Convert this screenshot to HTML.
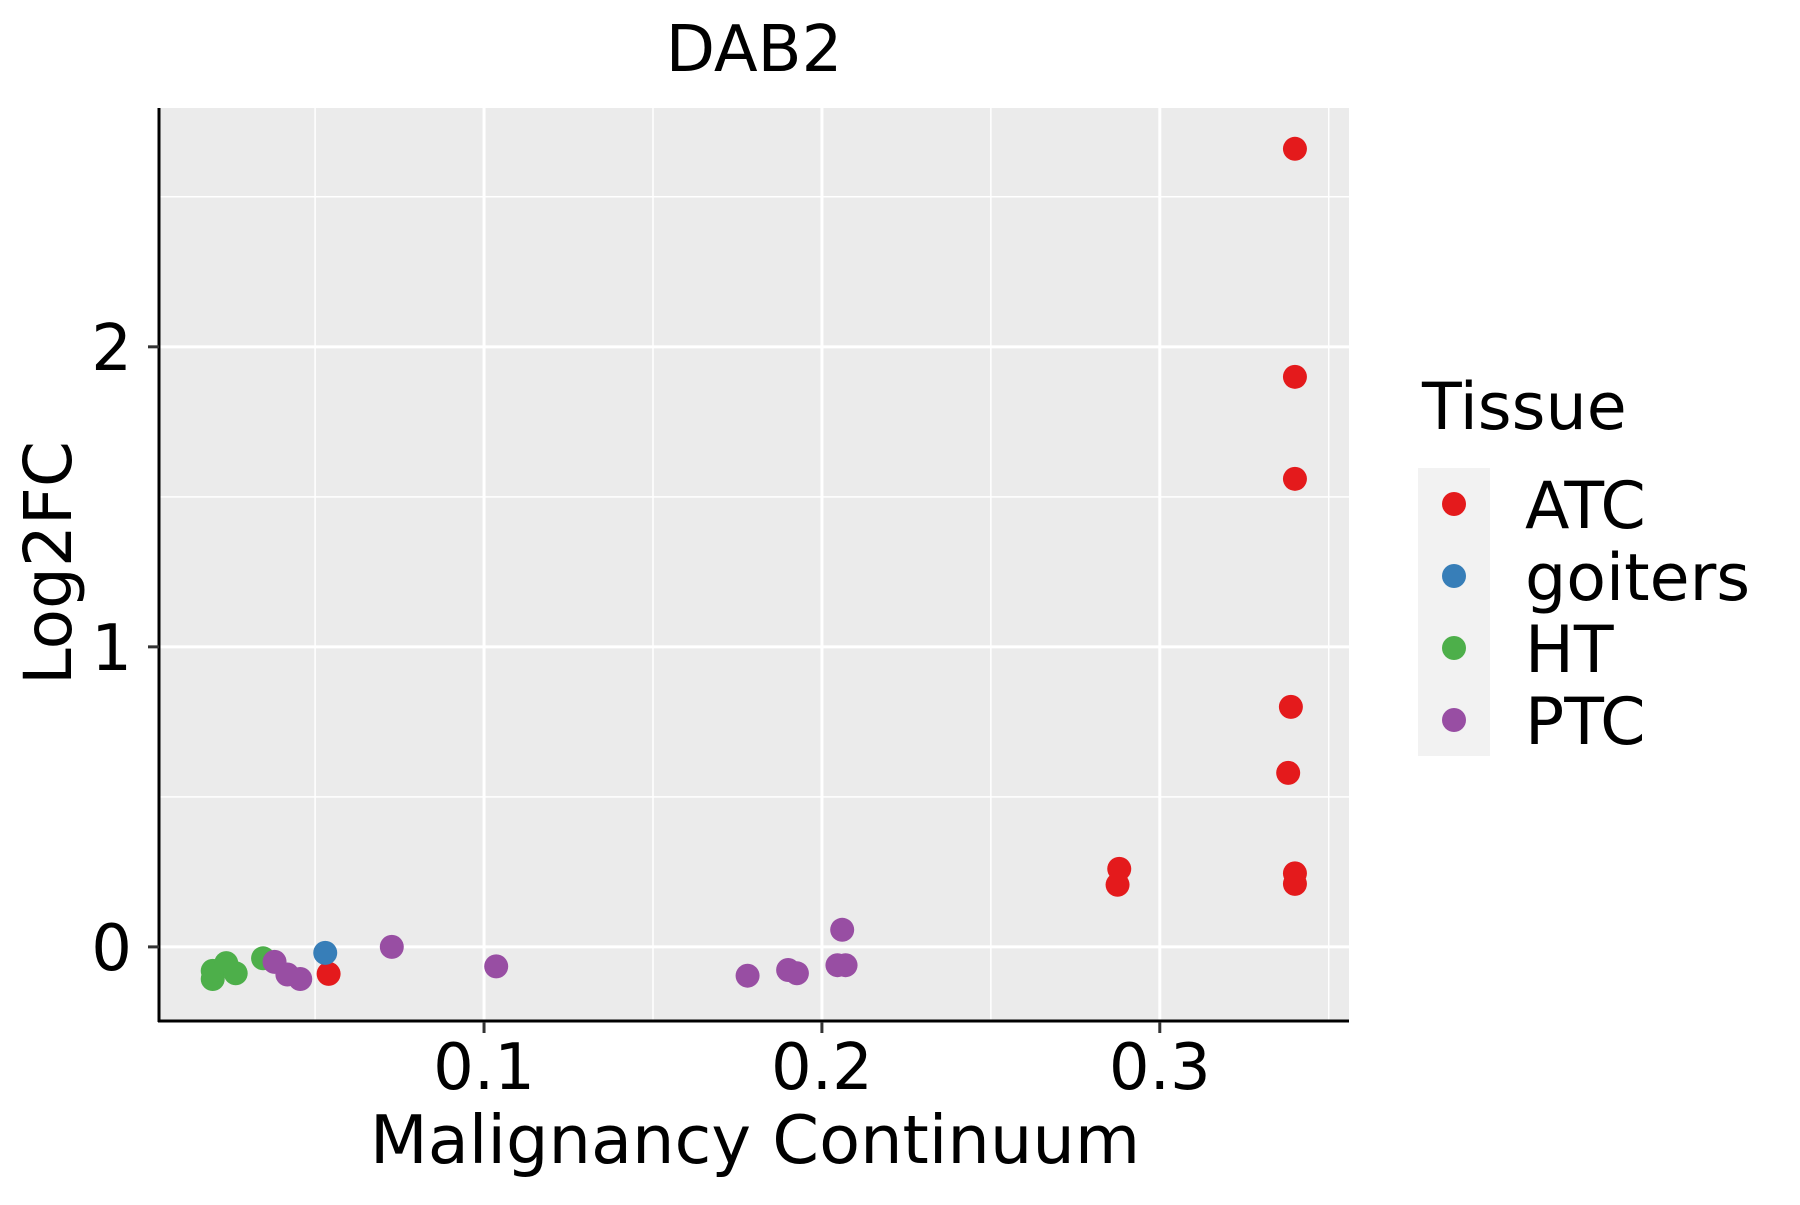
<!DOCTYPE html>
<html><head><meta charset="utf-8"><style>
html,body{margin:0;padding:0;background:#fff;}
svg text{font-family:"DejaVu Sans","Liberation Sans",sans-serif;fill:#000;}
</style></head><body>
<svg id="chart" width="1800" height="1200" viewBox="0 0 1800 1200" xmlns="http://www.w3.org/2000/svg">
<rect x="159" y="108" width="1190" height="913" fill="#EBEBEB"/>
<g id="grid"></g>
<g id="points"></g>
<line x1="159" y1="108" x2="159" y2="1022" stroke="#000" stroke-width="3"/>
<line x1="158" y1="1021" x2="1349" y2="1021" stroke="#000" stroke-width="3"/>
<g id="axes"></g>
<text x="754" y="71" font-size="64" text-anchor="middle">DAB2</text>
<text x="755" y="1163" font-size="67" text-anchor="middle">Malignancy Continuum</text>
<text transform="translate(71,563) rotate(-90)" font-size="66" text-anchor="middle">Log2FC</text>
<g>
<text x="1422" y="429" font-size="65">Tissue</text>
<rect x="1418" y="468" width="72" height="288" fill="#F2F2F2"/>
<g id="legend-entries"></g>
</g>
</svg>
<script>
const groups = ["ATC","goiters","HT","PTC"];
const groupColors = ["#E41A1C","#377EB8","#4DAF4A","#984EA3"];
const xTicks = [0.1,0.2,0.3];
const xTickLabels = ["0.1","0.2","0.3"];
const yTicks = [0,1,2];
const yTickLabels = ["0","1","2"];
const atcX = [0.340,0.340,0.340,0.3388,0.338,0.340,0.340,0.288,0.2875,0.054];
const atcY = [2.66,1.90,1.56,0.80,0.58,0.245,0.21,0.26,0.207,-0.09];
const goitersX = [0.053];
const goitersY = [-0.02];
const htX = [0.0197,0.0197,0.0237,0.0265,0.0346];
const htY = [-0.107,-0.08,-0.054,-0.088,-0.038];
const ptcX = [0.038,0.0418,0.0456,0.0727,0.1036,0.178,0.190,0.1926,0.2046,0.207,0.206];
const ptcY = [-0.05,-0.092,-0.107,0.0,-0.065,-0.096,-0.077,-0.088,-0.061,-0.061,0.057];

const NS="http://www.w3.org/2000/svg";
const X0=159,X1=1349,Y0=1021,Y1=108;
const xMin=0.0038,xMax=0.356,yMin=-0.247,yMax=2.796;
function sx(v){return X0+(v-xMin)/(xMax-xMin)*(X1-X0);}
function sy(v){return Y0-(v-yMin)/(yMax-yMin)*(Y0-Y1);}
function mk(tag,attrs,parent){const e=document.createElementNS(NS,tag);for(const k in attrs)e.setAttribute(k,attrs[k]);parent.appendChild(e);return e;}

const grid=document.getElementById('grid');
[0.05,0.15,0.25,0.35].forEach(v=>{const l=mk('line',{x1:sx(v),x2:sx(v),y1:Y1,y2:Y0,stroke:'#fff','stroke-width':1.5},grid);

});
[0.5,1.5,2.5].forEach(v=>{const l=mk('line',{x1:X0,x2:X1,y1:sy(v),y2:sy(v),stroke:'#fff','stroke-width':1.5},grid);

});
xTicks.forEach(v=>{const l=mk('line',{x1:sx(v),x2:sx(v),y1:Y1,y2:Y0,stroke:'#fff','stroke-width':3},grid);

});
yTicks.forEach(v=>{const l=mk('line',{x1:X0,x2:X1,y1:sy(v),y2:sy(v),stroke:'#fff','stroke-width':3},grid);

});

const axes=document.getElementById('axes');
xTicks.forEach((v,i)=>{const t=mk('line',{x1:sx(v),x2:sx(v),y1:1022,y2:1033,stroke:'#333','stroke-width':3},axes);


const tx=mk('text',{x:sx(v),y:1089,'font-size':64,'text-anchor':'middle'},axes);tx.textContent=xTickLabels[i];

});
yTicks.forEach((v,i)=>{const t=mk('line',{x1:148,x2:159,y1:sy(v),y2:sy(v),stroke:'#333','stroke-width':3},axes);


const tx=mk('text',{x:132,y:sy(v)+23,'font-size':64,'text-anchor':'end'},axes);tx.textContent=yTickLabels[i];

});

const pts=document.getElementById('points');
const series=[[atcX,atcY],[goitersX,goitersY],[htX,htY],[ptcX,ptcY]];
series.forEach((s,gi)=>{s[0].forEach((xv,j)=>{const c=mk('circle',{cx:sx(xv),cy:sy(s[1][j]),r:12,fill:groupColors[gi]},pts);

});});

const leg=document.getElementById('legend-entries');
groups.forEach((g,i)=>{const cy=504+i*72;
const c=mk('circle',{cx:1454,cy:cy,r:12,fill:groupColors[i]},leg);


const t=mk('text',{x:1525,y:cy+24,'font-size':65},leg);t.textContent=g;

});
</script>
</body></html>
